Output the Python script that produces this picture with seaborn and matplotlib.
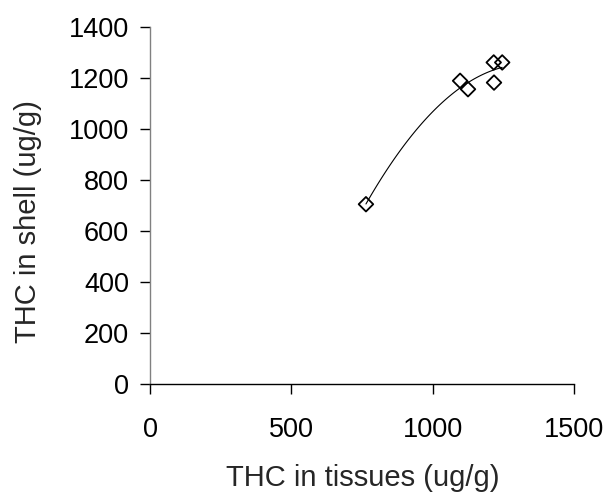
import numpy as np
import pandas as pd
import matplotlib
matplotlib.use("Agg")
import matplotlib.pyplot as plt
import seaborn as sns

tissues = [764, 1097, 1125, 1216, 1246, 1217]
shell = [705, 1189, 1156, 1261, 1261, 1182]
x_ticks = [0, 500, 1000, 1500]
y_ticks = [0, 200, 400, 600, 800, 1000, 1200, 1400]
x_label = "THC in tissues (ug/g)"
y_label = "THC in shell (ug/g)"

sns.set_theme(style="white")
plt.rcParams['font.family'] = ['Liberation Sans', 'DejaVu Sans']

df = pd.DataFrame({"tissues": tissues, "shell": shell})

W, H = 609, 498
fig = plt.figure(figsize=(W/100, H/100), dpi=100)
ax = fig.add_axes([150/W, 1-384/H, (574-150)/W, (384-27)/H])

# polynomial (order 2) trend line
coef = np.polyfit(df["tissues"], df["shell"], 2)
xs = np.linspace(df["tissues"].min(), df["tissues"].max(), 100)
ax.plot(xs, np.polyval(coef, xs), color="black", lw=0.8)

sns.scatterplot(data=df, x="tissues", y="shell", marker="D", s=55,
                facecolor="none", edgecolor="black", linewidth=1.3, ax=ax, zorder=3)

ax.set_xlim(0, 1500)
ax.set_ylim(0, 1400)
ax.set_xticks(x_ticks)
ax.set_yticks(y_ticks)
ax.tick_params(axis="both", labelsize=19.5, length=7, width=1, direction="out",
               colors="black", bottom=True, left=True)
ax.tick_params(axis="y", pad=8)
ax.tick_params(axis="x", pad=17)
for s in ["top", "right"]:
    ax.spines[s].set_visible(False)
ax.spines["left"].set_color("#808080")
ax.spines["bottom"].set_color("black")
for s in ["left", "bottom"]:
    ax.spines[s].set_linewidth(1)
ax.set_xlabel("")
ax.set_ylabel("")
fig.text(363/W, 1-464/H, x_label, fontsize=21, ha="center", va="top")
fig.text(14/W, 1-222/H, y_label, fontsize=21, ha="left", va="center", rotation=90)

fig.savefig("out.png", dpi=100)
